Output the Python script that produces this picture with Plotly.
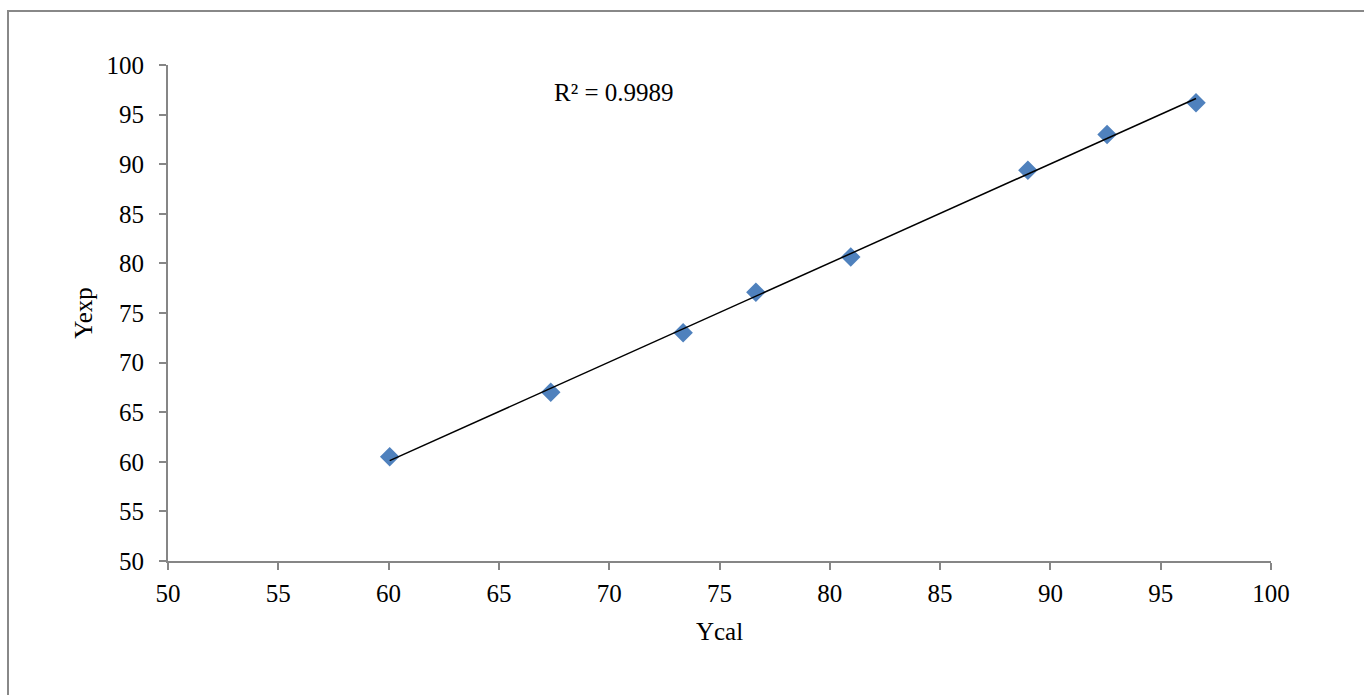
import numpy as np
import plotly.graph_objects as go

# Calculated vs experimental response values
y_cal = [60.05, 67.35, 73.35, 76.65, 80.95, 88.98, 92.57, 96.6]
y_exp = [60.5, 67.0, 73.0, 77.1, 80.65, 89.4, 93.0, 96.2]

x_ticks = list(range(50, 101, 5))
y_ticks = list(range(50, 101, 5))

r2_label = "R² = 0.9989"

# Least-squares trendline over the data range
slope, intercept = np.polyfit(y_cal, y_exp, 1)
x_fit = [min(y_cal), max(y_cal)]
y_fit = [slope * v + intercept for v in x_fit]

axis_color = "#868686"
font_family = "Liberation Serif, Times New Roman, serif"
fs = 25

fig = go.Figure()
fig.add_trace(go.Scatter(
    x=y_cal, y=y_exp, mode="markers",
    marker=dict(symbol="diamond", size=15, color="#4F81BD",
                line=dict(width=0)),
    showlegend=False, hoverinfo="x+y",
))
fig.add_trace(go.Scatter(
    x=x_fit, y=y_fit, mode="lines",
    line=dict(color="black", width=1.5),
    showlegend=False, hoverinfo="skip",
))

fig.update_layout(
    width=1364, height=695,
    margin=dict(l=168, r=93, t=65, b=134),
    paper_bgcolor="white", plot_bgcolor="white",
    font=dict(family=font_family, size=fs, color="black"),
    xaxis=dict(
        range=[50, 100], tickvals=x_ticks, ticktext=[str(v) for v in x_ticks],
        showgrid=False, zeroline=False, showline=True, linecolor=axis_color,
        linewidth=2, ticks="outside", ticklen=7, tickcolor=axis_color,
        tickwidth=1.5, tickfont=dict(size=fs), ticklabelstandoff=2,
        title=dict(text="Ycal", font=dict(size=fs), standoff=16),
    ),
    yaxis=dict(
        range=[50, 100], tickvals=y_ticks, ticktext=[str(v) for v in y_ticks],
        showgrid=False, zeroline=False, showline=True, linecolor=axis_color,
        linewidth=2, ticks="outside", ticklen=7, tickcolor=axis_color,
        tickwidth=1.5, tickfont=dict(size=fs), ticklabelstandoff=10,
        title=dict(text="Yexp", font=dict(size=fs), standoff=7),
    ),
    annotations=[dict(
        x=(614 - 168) / 1103, y=1 + (65 - 92) / 496,
        xref="paper", yref="paper", text=r2_label, showarrow=False,
        font=dict(size=fs, family=font_family), xanchor="center", yanchor="middle",
    )],
    shapes=[dict(
        type="rect", xref="paper", yref="paper",
        x0=(8 - 168) / 1103, x1=(1380 - 168) / 1103,
        y0=1 - (710 - 65) / 496, y1=1 + (65 - 11) / 496,
        line=dict(color="#888888", width=2), fillcolor="rgba(0,0,0,0)",
        layer="below",
    )],
)

fig.write_html("out.html")
